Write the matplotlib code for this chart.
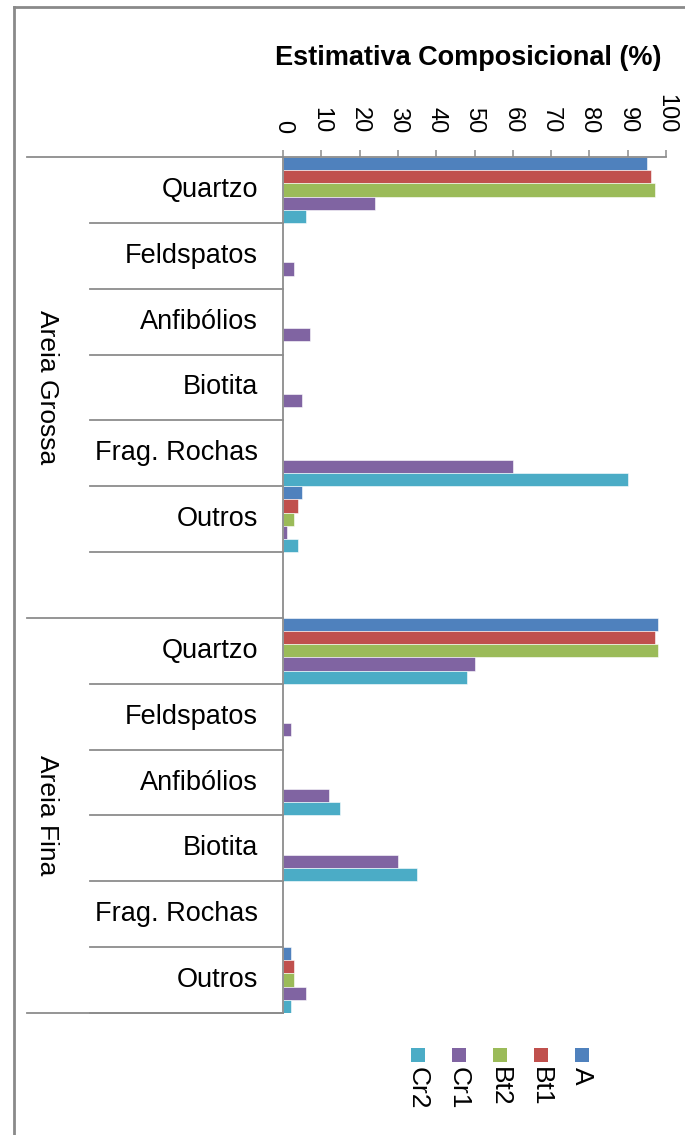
import matplotlib
matplotlib.use("Agg")
import matplotlib.pyplot as plt
from matplotlib import transforms
from matplotlib.lines import Line2D
from matplotlib.patches import Rectangle

plt.rcParams['font.family'] = ['Liberation Sans', 'DejaVu Sans']

# ---------------- data ----------------
groups = ["Areia Grossa", "Areia Fina"]
minerals = ["Quartzo", "Feldspatos", "Anfibólios", "Biotita", "Frag. Rochas", "Outros"]
series = ["A", "Bt1", "Bt2", "Cr1", "Cr2"]
colors = ["#4F81BD", "#C0504D", "#9BBB59", "#8064A2", "#4BACC6"]

# values per series: first 6 = Areia Grossa, last 6 = Areia Fina
vals_A   = [95, 0, 0, 0, 0, 5,   98, 0, 0, 0, 0, 2]
vals_Bt1 = [96, 0, 0, 0, 0, 4,   97, 0, 0, 0, 0, 3]
vals_Bt2 = [97, 0, 0, 0, 0, 3,   98, 0, 0, 0, 0, 3]
vals_Cr1 = [24, 3, 7, 5, 60, 1,  50, 2, 12, 30, 0, 6]
vals_Cr2 = [6, 0, 0, 0, 90, 4,   48, 0, 15, 35, 0, 2]
all_vals = [vals_A, vals_Bt1, vals_Bt2, vals_Cr1, vals_Cr2]

xticks = list(range(0, 101, 10))
axis_title = "Estimativa Composicional (%)"

# ---------------- layout helpers ----------------
W, H = 685, 1135
def fx(x): return x / W
def fy(y): return 1 - y / H

fig = plt.figure(figsize=(W / 100, H / 100), dpi=100)
fig.patch.set_facecolor("white")

n_min = len(minerals)
slot_per_group = n_min + 1          # one empty slot between groups
n_slots = slot_per_group * len(groups) - 1

ax = fig.add_axes([fx(283), fy(1013), fx(666) - fx(283), fy(157) - fy(1013)])
ax.set_xlim(0, 100)
ax.set_ylim(n_slots, 0)

n_ser = len(series)
bh = 1.0 / n_ser
for k, (name, vals, c) in enumerate(zip(series, all_vals, colors)):
    ys, ws = [], []
    for g in range(len(groups)):
        for m in range(n_min):
            ys.append(g * slot_per_group + m + (k + 0.5) * bh)
            ws.append(vals[g * n_min + m])
    ax.barh(ys, ws, height=bh, color=c, edgecolor="white", linewidth=0.4, label=name)

gray = "#8c8c8c"
for s in ["right", "bottom"]:
    ax.spines[s].set_visible(False)
for s in ["top", "left"]:
    ax.spines[s].set_color(gray)
    ax.spines[s].set_linewidth(1.3)

ax.xaxis.tick_top()
ax.set_xticks(xticks)
ax.set_xticklabels([str(t) for t in xticks], rotation=-90, fontsize=17)
ax.tick_params(axis="x", direction="out", length=5, width=1.1, color=gray, pad=12)
ax.set_yticks([])

# category axis dividers and labels
bt = transforms.blended_transform_factory(fig.transFigure, ax.transData)
x_axis = fx(283)
for g in range(len(groups)):
    base = g * slot_per_group
    for m in range(n_min + 1):
        yb = base + m
        if yb > n_slots:
            continue
        x0 = fx(27) if m == 0 else fx(90)
        ax.add_line(Line2D([x0, x_axis], [yb, yb], transform=bt, color=gray,
                           lw=1.3, clip_on=False))
    for m, name in enumerate(minerals):
        ax.text(fx(258), base + m + 0.5, name, transform=bt, ha="right",
                va="center", fontsize=19.5)
    g_end = min(base + slot_per_group, n_slots)
    ax.text(fx(47), (base + g_end) / 2, groups[g], transform=bt, ha="center",
            va="center", rotation=-90, fontsize=19)
ax.add_line(Line2D([fx(27), x_axis], [n_slots, n_slots], transform=bt, color=gray,
                   lw=1.3, clip_on=False))

# axis title
fig.text(fx(468), fy(58), axis_title, ha="center", va="center",
         fontsize=19.5, fontweight="bold")

# legend (rotated, manual)
for i, (name, c) in enumerate(zip(series, colors)):
    xc = 582 - i * 41
    fig.patches.append(Rectangle((fx(xc - 7), fy(1062)), 14 / W, 14 / H,
                                 transform=fig.transFigure, facecolor=c,
                                 edgecolor="none"))
    fig.text(fx(xc), fy(1067), name, ha="center", va="top", rotation=-90,
             fontsize=19)

# outer frame (left and top visible)
fig.add_artist(Line2D([fx(13.5), fx(13.5)], [fy(7), 0], transform=fig.transFigure,
                      color="#8a8a8a", lw=2))
fig.add_artist(Line2D([fx(13.5), 1], [fy(7), fy(7)], transform=fig.transFigure,
                      color="#8a8a8a", lw=2))

fig.savefig("out.png", dpi=100)
